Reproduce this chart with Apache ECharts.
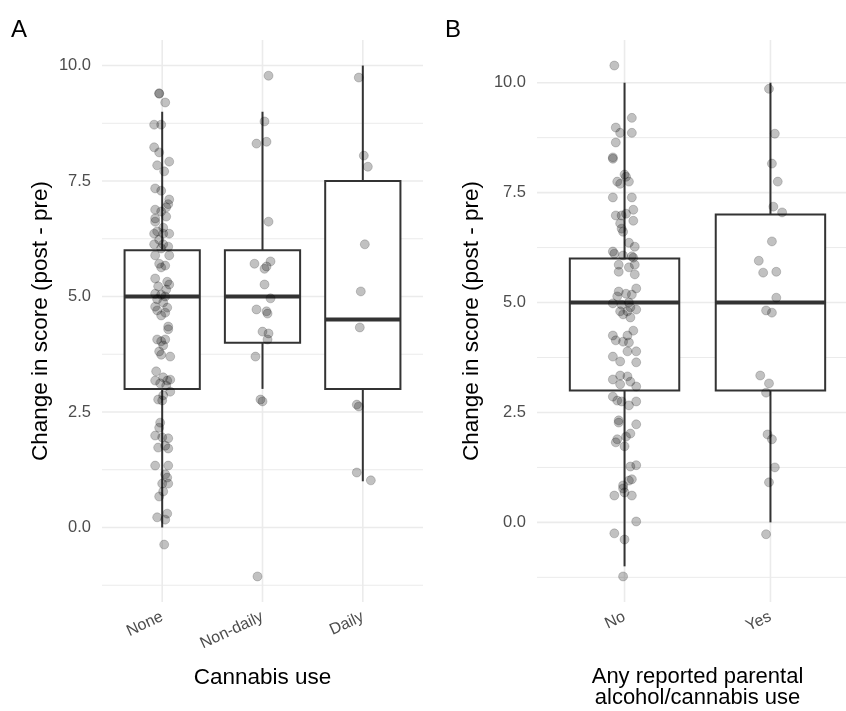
<!DOCTYPE html>
<html>
<head>
<meta charset="utf-8">
<script src="https://cdn.jsdelivr.net/npm/echarts@6/dist/echarts.min.js"></script>
<style>html,body{margin:0;padding:0;background:#fff}#c{width:846px;height:711px}</style>
</head>
<body>
<div id="c"></div>
<script>
// ---------- data ----------
const catsA = ['None', 'Non-daily', 'Daily'];
const catsB = ['No', 'Yes'];
const yTicks = [0, 2.5, 5, 7.5, 10];
const yMinorTicks = [-1.25, 1.25, 3.75, 6.25, 8.75];
// box stats: [lower whisker, Q1, median, Q3, upper whisker]
const boxNone = [0, 3, 5, 6, 9];
const boxNonDaily = [3, 4, 5, 6, 9];
const boxDaily = [1, 3, 4.5, 7.5, 10];
const boxNo = [-1, 3, 5, 6, 10];
const boxYes = [0, 3, 5, 7, 10];
// jittered points: [horizontal jitter (category units), change in score]
const ptsNone = [[-0.03,9.39],[-0.03,9.4],[0.03,9.2],[-0.08,8.72],[-0.01,8.72],[-0.08,8.23],[-0.03,8.12],[-0.05,7.84],[0.07,7.92],[0.02,7.71],[-0.07,7.34],[-0.01,7.29],[0.07,7.1],[0.06,7.0],[-0.07,6.88],[-0.01,6.84],[0.04,6.93],[-0.07,6.69],[0.04,6.73],[-0.07,6.62],[0.01,6.49],[-0.05,6.41],[-0.08,6.36],[0.01,6.36],[0.07,6.36],[-0.03,6.23],[0.01,6.13],[-0.08,6.13],[0.06,6.08],[-0.01,6.04],[-0.07,5.89],[0.07,5.89],[-0.03,5.71],[0.03,5.67],[-0.01,5.63],[-0.07,5.39],[0.05,5.32],[-0.04,5.22],[0.07,5.26],[0.04,5.15],[-0.07,5.06],[-0.01,5.04],[0.03,5.0],[-0.05,4.94],[0.01,4.87],[-0.07,4.78],[0.05,4.76],[-0.05,4.7],[0.03,4.65],[-0.01,4.59],[0.06,4.35],[0.06,4.29],[-0.05,4.07],[-0.01,4.03],[0.03,4.07],[0.01,3.94],[-0.03,3.81],[-0.01,3.74],[0.08,3.7],[-0.06,3.38],[0.01,3.25],[-0.07,3.18],[0.05,3.18],[-0.02,3.12],[0.08,3.2],[0.04,3.07],[0.08,2.94],[0.01,2.86],[-0.04,2.77],[0,2.75],[-0.02,2.27],[-0.03,2.16],[-0.07,1.99],[0,1.95],[0.06,1.93],[0.03,1.77],[-0.04,1.73],[0.06,1.71],[-0.07,1.34],[0.06,1.34],[0.03,1.15],[0.05,1.08],[0,0.95],[0.06,0.95],[0.01,0.78],[-0.03,0.67],[-0.05,0.22],[0.05,0.3],[0.03,0.17],[0.02,-0.37]];
const ptsNonDaily = [[0.06,9.78],[0.02,8.79],[0.04,8.35],[-0.06,8.31],[0.06,6.62],[-0.08,5.71],[0.08,5.76],[0.04,5.65],[0.02,5.6],[0.02,5.26],[0.08,4.96],[-0.06,4.72],[0.04,4.68],[0.05,4.63],[0,4.24],[0.06,4.2],[0.05,4.07],[-0.07,3.7],[-0.02,2.77],[0,2.73],[-0.05,-1.06]];
const ptsDaily = [[-0.04,9.74],[0.01,8.05],[0.05,7.81],[0.02,6.13],[-0.02,5.11],[-0.03,4.33],[-0.06,2.66],[-0.04,2.62],[-0.06,1.19],[0.08,1.02]];
const ptsNo = [[-0.07,10.39],[0.05,9.2],[-0.06,8.98],[-0.03,8.86],[0.05,8.86],[-0.06,8.64],[-0.08,8.3],[-0.08,8.27],[0,7.91],[0.01,7.86],[-0.05,7.75],[-0.03,7.7],[0.03,7.75],[-0.08,7.39],[0.05,7.39],[0.06,7.11],[-0.06,6.98],[-0.02,6.98],[0.01,7.02],[0.06,6.86],[-0.03,6.8],[-0.02,6.68],[-0.01,6.61],[0.03,6.36],[0.07,6.27],[-0.08,6.16],[-0.07,6.11],[-0.01,6.07],[0.05,6.05],[0.06,6.02],[-0.04,5.86],[0.07,5.86],[0.03,5.8],[-0.04,5.7],[0.07,5.64],[-0.04,5.25],[0.08,5.32],[-0.05,5.14],[0.01,5.2],[0.05,5.18],[-0.08,4.98],[-0.02,4.95],[0.03,5.0],[0.04,4.89],[-0.03,4.8],[0.08,4.84],[-0.01,4.73],[0.02,4.8],[0.04,4.66],[0.06,4.36],[-0.08,4.25],[0.02,4.25],[-0.06,4.14],[-0.01,4.11],[0.03,4.09],[0.02,3.89],[0.08,3.89],[-0.08,3.77],[-0.03,3.66],[0.08,3.64],[-0.03,3.34],[-0.08,3.25],[0.02,3.32],[0.04,3.2],[0.08,3.09],[-0.03,3.14],[-0.08,2.86],[-0.05,2.77],[-0.02,2.75],[0.08,2.75],[0.03,2.66],[-0.04,2.32],[-0.04,2.27],[0.08,2.23],[0.04,2.02],[0.01,1.95],[-0.05,1.89],[-0.06,1.82],[0,1.73],[0.04,1.27],[0.08,1.3],[0.03,0.95],[0.05,0.98],[-0.01,0.84],[-0.01,0.77],[0,0.68],[-0.07,0.61],[0.05,0.61],[0.08,0.02],[-0.07,-0.25],[0,-0.39],[-0.01,-1.23]];
const ptsYes = [[-0.01,9.86],[0.03,8.84],[0.01,8.16],[0.05,7.75],[0.02,7.18],[0.08,7.05],[0.01,6.39],[-0.08,5.95],[-0.05,5.68],[0.04,5.7],[0.04,5.11],[-0.03,4.82],[0.01,4.77],[-0.07,3.34],[-0.01,3.16],[-0.03,2.95],[-0.02,2.0],[0.01,1.89],[0.03,1.25],[-0.01,0.91],[-0.03,-0.27]];

// ---------- build ----------
const boxesA = [boxNone, boxNonDaily, boxDaily];
const boxesB = [boxNo, boxYes];
const ptsA = [ptsNone, ptsNonDaily, ptsDaily];
const ptsB = [ptsNo, ptsYes];

function toBoxData(boxes) { return boxes.map((b, i) => [i + 1].concat(b)); }
function toPts(groups) {
  const out = [];
  groups.forEach((g, i) => g.forEach(p => out.push([i + 1 + p[0], p[1]])));
  return out;
}
function yRange(boxes, groups) {
  let lo = Infinity, hi = -Infinity;
  boxes.forEach(b => { lo = Math.min(lo, b[0]); hi = Math.max(hi, b[4]); });
  groups.forEach(g => g.forEach(p => { lo = Math.min(lo, p[1]); hi = Math.max(hi, p[1]); }));
  const e = (hi - lo) * 0.05;
  return [lo - e, hi + e];
}
const rA = yRange(boxesA, ptsA);
const rB = yRange(boxesB, ptsB);

const FONT = '"Liberation Sans", Arial, Helvetica, sans-serif';
const INK = '#333333';
const GRID = '#EBEBEB';

function renderBox(params, api) {
  const x = api.value(0);
  const lo = api.coord([x, api.value(1)]);
  const q1 = api.coord([x, api.value(2)]);
  const md = api.coord([x, api.value(3)]);
  const q3 = api.coord([x, api.value(4)]);
  const hi = api.coord([x, api.value(5)]);
  const w = api.size([0.75, 0])[0];
  const l = q1[0] - w / 2, r = q1[0] + w / 2;
  return {
    type: 'group',
    children: [
      { type: 'line', shape: { x1: lo[0], y1: lo[1], x2: q1[0], y2: q1[1] }, style: { stroke: INK, lineWidth: 2 } },
      { type: 'line', shape: { x1: q3[0], y1: q3[1], x2: hi[0], y2: hi[1] }, style: { stroke: INK, lineWidth: 2 } },
      { type: 'rect', shape: { x: l, y: q3[1], width: w, height: q1[1] - q3[1] }, style: { fill: '#ffffff', stroke: INK, lineWidth: 2 } },
      { type: 'line', shape: { x1: l, y1: md[1], x2: r, y2: md[1] }, style: { stroke: INK, lineWidth: 4 } }
    ]
  };
}

// grid lines: [kind(0=horizontal,1=vertical), value, major(1)/minor(0)]
function gridData(ncat) {
  const d = [];
  yMinorTicks.forEach(v => d.push([0, v, 0]));
  yTicks.forEach(v => d.push([0, v, 1]));
  for (let i = 1; i <= ncat; i++) d.push([1, i, 1]);
  return d;
}
function renderGrid(params, api) {
  const cs = params.coordSys;
  const kind = api.value(0), v = api.value(1), major = api.value(2);
  const lw = major ? 1.6 : 1;
  if (kind === 0) {
    const y = api.coord([1, v])[1];
    return { type: 'line', shape: { x1: cs.x, y1: y, x2: cs.x + cs.width, y2: y }, style: { stroke: GRID, lineWidth: lw } };
  }
  const x = api.coord([v, 0])[0];
  return { type: 'line', shape: { x1: x, y1: cs.y, x2: x, y2: cs.y + cs.height }, style: { stroke: GRID, lineWidth: lw } };
}

function yAxisCfg(gi, r, gap) {
  return {
    type: 'value', gridIndex: gi, min: r[0], max: r[1],
    name: 'Change in score (post - pre)', nameLocation: 'middle', nameGap: gap,
    nameTextStyle: { fontSize: 22.5, color: '#000', fontFamily: FONT },
    axisLine: { show: false }, axisTick: { show: false }, splitLine: { show: false },
    axisLabel: { customValues: yTicks, formatter: v => v.toFixed(1), color: '#4D4D4D', fontSize: 16.5, fontFamily: FONT, margin: 11 }
  };
}
function xAxisCfg(gi, cats, name, gap, fs, lh) {
  return {
    type: 'value', gridIndex: gi, min: 0.4, max: cats.length + 0.6,
    name: name, nameLocation: 'middle', nameGap: gap,
    nameTextStyle: { fontSize: fs, color: '#000', fontFamily: FONT, lineHeight: lh },
    axisLine: { show: false }, axisTick: { show: false }, splitLine: { show: false },
    axisLabel: { customValues: cats.map((c, i) => i + 1), formatter: v => cats[Math.round(v) - 1],
      rotate: 25, color: '#4D4D4D', fontSize: 16, fontFamily: FONT, margin: 14 }
  };
}

const option = {
  backgroundColor: '#ffffff',
  animation: false,
  title: [
    { text: 'A', left: 11, top: 18, padding: 0, textStyle: { fontSize: 24, fontWeight: 'normal', color: '#000', fontFamily: FONT } },
    { text: 'B', left: 445, top: 18, padding: 0, textStyle: { fontSize: 24, fontWeight: 'normal', color: '#000', fontFamily: FONT } }
  ],
  grid: [
    { left: 102, top: 40, width: 321, height: 562, outerBoundsMode: 'none', containLabel: false },
    { left: 537, top: 40, width: 321, height: 562, outerBoundsMode: 'none', containLabel: false }
  ],
  xAxis: [
    xAxisCfg(0, catsA, 'Cannabis use', 65, 22.5, 22),
    xAxisCfg(1, catsB, 'Any reported parental\nalcohol/cannabis use', 64, 22, 21)
  ],
  yAxis: [ yAxisCfg(0, rA, 50), yAxisCfg(1, rB, 54) ],
  series: [
    { type: 'custom', xAxisIndex: 0, yAxisIndex: 0, renderItem: renderGrid, data: gridData(catsA.length), z: 0, silent: true, clip: false },
    { type: 'custom', xAxisIndex: 1, yAxisIndex: 1, renderItem: renderGrid, data: gridData(catsB.length), z: 0, silent: true, clip: false },
    { type: 'custom', xAxisIndex: 0, yAxisIndex: 0, renderItem: renderBox, data: toBoxData(boxesA), z: 2, silent: true },
    { type: 'custom', xAxisIndex: 1, yAxisIndex: 1, renderItem: renderBox, data: toBoxData(boxesB), z: 2, silent: true },
    { type: 'scatter', xAxisIndex: 0, yAxisIndex: 0, data: toPts(ptsA), symbolSize: 9, z: 3, silent: true,
      itemStyle: { color: 'rgba(0,0,0,0.3)', borderColor: 'rgba(0,0,0,0.22)', borderWidth: 1 } },
    { type: 'scatter', xAxisIndex: 1, yAxisIndex: 1, data: toPts(ptsB), symbolSize: 9, z: 3, silent: true,
      itemStyle: { color: 'rgba(0,0,0,0.3)', borderColor: 'rgba(0,0,0,0.22)', borderWidth: 1 } }
  ]
};
const chart = echarts.init(document.getElementById('c'), null, { renderer: 'canvas' });
chart.setOption(option);
</script>
</body>
</html>
